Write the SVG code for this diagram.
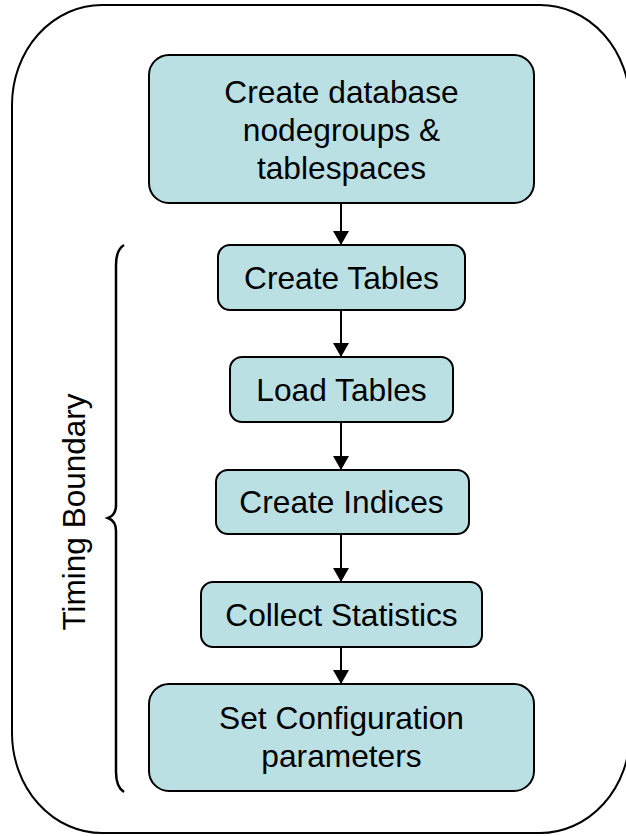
<svg xmlns="http://www.w3.org/2000/svg" width="626" height="836" viewBox="0 0 626 836">
<defs>
<style>
.node rect{fill:#BAE0E3;stroke:#000;stroke-width:2}
.node text{font-family:"Liberation Sans",Arial,sans-serif;font-size:31.7px;fill:#000;text-anchor:middle}
.conn line{stroke:#000;stroke-width:2}
.label{font-family:"Liberation Sans",Arial,sans-serif;font-size:31.5px;fill:#000;text-anchor:middle}
</style>
<marker id="arr" viewBox="0 0 14 16" refX="14" refY="8" markerWidth="14" markerHeight="16" markerUnits="userSpaceOnUse" orient="auto">
<path d="M0,0 L14,8 L0,16 Z" fill="#000"/>
</marker>
</defs>
<rect id="boundary" x="12" y="5" width="618" height="828" rx="90" ry="100" fill="none" stroke="#000" stroke-width="2"/>
<g id="brace">
<path d="M124,245 Q116,250 116,265 L116,505 Q116,515 108,518 Q116,521 116,531 L116,772 Q116,787 124,792" fill="none" stroke="#000" stroke-width="2.5"/>
<text class="label" transform="translate(85,512) rotate(-90)">Timing Boundary</text>
</g>
<g class="conn" id="connectors">
<line x1="341" y1="203" x2="341" y2="245" marker-end="url(#arr)"/>
<line x1="341" y1="310" x2="341" y2="357" marker-end="url(#arr)"/>
<line x1="341" y1="422" x2="341" y2="470" marker-end="url(#arr)"/>
<line x1="341" y1="534" x2="341" y2="582" marker-end="url(#arr)"/>
<line x1="341" y1="647" x2="341" y2="684" marker-end="url(#arr)"/>
</g>
<g class="node" id="n1">
<rect x="149" y="55" width="385" height="148" rx="20"/>
<text x="341.5" y="103">Create database</text>
<text x="341.5" y="141">nodegroups &amp;</text>
<text x="341.5" y="179">tablespaces</text>
</g>
<g class="node" id="n2">
<rect x="218" y="245" width="247" height="65" rx="12"/>
<text x="341.5" y="289">Create Tables</text>
</g>
<g class="node" id="n3">
<rect x="230" y="357" width="223" height="65" rx="12"/>
<text x="341.5" y="401">Load Tables</text>
</g>
<g class="node" id="n4">
<rect x="216" y="470" width="253" height="64" rx="12"/>
<text x="341.5" y="513">Create Indices</text>
</g>
<g class="node" id="n5">
<rect x="201" y="582" width="281" height="65" rx="12"/>
<text x="341.5" y="626">Collect Statistics</text>
</g>
<g class="node" id="n6">
<rect x="149" y="684" width="385" height="107" rx="20"/>
<text x="341.5" y="729">Set Configuration</text>
<text x="341.5" y="767">parameters</text>
</g>
</svg>
